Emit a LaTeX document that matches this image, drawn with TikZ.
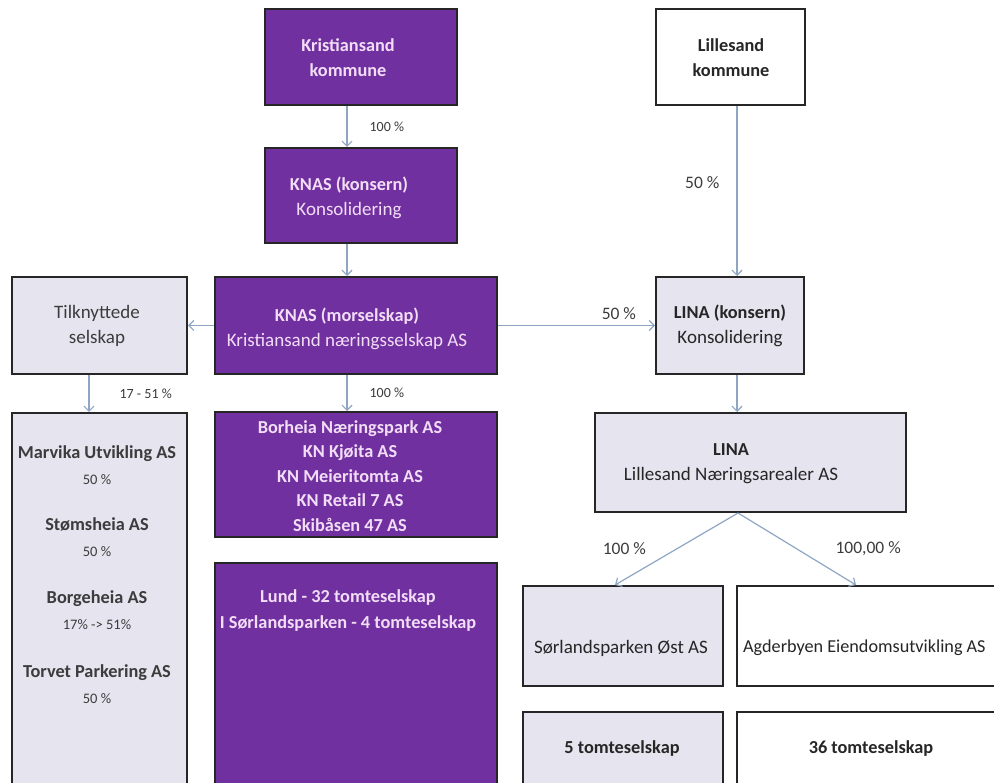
\documentclass[tikz,border=0pt]{standalone}
\usepackage{fontspec}
\setmainfont{Carlito}
\usetikzlibrary{positioning,arrows.meta}

\definecolor{knaspurple}{HTML}{7030A0}
\definecolor{linagray}{HTML}{E5E4EF}
\definecolor{linkblue}{HTML}{8EA6C4}
\definecolor{purpletext}{HTML}{F2DDF6}
\definecolor{graytext}{HTML}{3C3C3C}

\newcommand{\boxfont}{\fontsize{19}{25}\selectfont}
\newcommand{\boxbold}[1]{{\fontsize{18.3}{25}\selectfont\bfseries #1}}
\newcommand{\smallpct}[1]{{\fontsize{14.5}{16}\selectfont #1}}

\tikzset{
  box/.style={draw=black!85, line width=2pt, inner sep=0pt},
  purplebox/.style={box, fill=knaspurple},
  lightbox/.style={box, fill=linagray},
  whitebox/.style={box, fill=white},
  ontext/.style={font=\boxfont, align=center, inner sep=0pt},
  purpletxt/.style={ontext, text=purpletext},
  graytxt/.style={ontext, text=graytext},
  darktxt/.style={ontext, text=black!85},
  link/.style={draw=linkblue, line width=1.2pt, -{Straight Barb[length=5pt,width=10pt]}},
  pct/.style={font=\fontsize{14}{16}\selectfont, text=graytext, inner sep=0pt},
  bigpct/.style={font=\fontsize{17.5}{19}\selectfont, text=graytext, inner sep=0pt},
}

\begin{document}
\begin{tikzpicture}[x=1pt, y=-1pt]
  \clip (0,0) rectangle (994,783);
  \fill[white] (0,0) rectangle (994,783);

  % Kristiansand side
  \node[purplebox, minimum width=192pt, minimum height=96pt] (krs) at (361,57) {};
  \node[purpletxt] (krs-t) at (348,57.5) {\boxbold{Kristiansand}\\\boxbold{kommune}};
  \node[purplebox, minimum width=192pt, minimum height=95pt] (knasK) at (361,195.5) {};
  \node[purpletxt] (knasK-t) at (349,197.5) {\boxbold{KNAS (konsern)}\\Konsolidering};
  \node[purplebox, minimum width=282pt, minimum height=97pt] (knasM) at (356,325.5) {};
  \node[purpletxt] (knasM-t) at (347,328.5) {\boxbold{KNAS (morselskap)}\\Kristiansand næringsselskap AS};
  \node[purplebox, minimum width=282pt, minimum height=125pt] (borheia) at (356,474.5) {};
  \node[purpletxt, font=\fontsize{18.3}{24.5}\selectfont\bfseries] (borheia-t) at (350,476)
    {Borheia Næringspark AS\\KN Kjøita AS\\KN Meieritomta AS\\KN Retail 7 AS\\Skibåsen 47 AS};
  \node[purplebox, minimum width=282pt, minimum height=260pt, anchor=north] (lund) at (356,562) {};
  \node[purpletxt, font=\fontsize{18.3}{26}\selectfont\bfseries] (lund-t) at (348,611)
    {Lund - 32 tomteselskap\\I Sørlandsparken - 4 tomteselskap};

  % tilknyttede selskap
  \node[lightbox, minimum width=175pt, minimum height=97pt] (tilk) at (99.5,325.5) {};
  \node[graytxt] (tilk-t) at (97,326) {Tilknyttede\\selskap};
  \node[lightbox, minimum width=175pt, minimum height=410pt, anchor=north] (marvika) at (99.5,412) {};
  \node[graytxt, anchor=north, font=\fontsize{18.3}{26}\selectfont] (marvika-t) at (97,445)
    {\textbf{Marvika Utvikling AS}\\\smallpct{50 \%}\\[20pt]
     \textbf{Stømsheia AS}\\\smallpct{50 \%}\\[21pt]
     \textbf{Borgeheia AS}\\\smallpct{17\% -> 51\%}\\[22pt]
     \textbf{Torvet Parkering AS}\\\smallpct{50 \%}};

  % Lillesand side
  \node[whitebox, minimum width=149pt, minimum height=96pt] (lil) at (730.5,57) {};
  \node[darktxt] (lil-t) at (731,57.5) {\boxbold{Lillesand}\\\boxbold{kommune}};
  \node[lightbox, minimum width=148pt, minimum height=97pt] (linaK) at (730,325.5) {};
  \node[darktxt] (linaK-t) at (730,326) {\boxbold{LINA (konsern)}\\Konsolidering};
  \node[lightbox, minimum width=311pt, minimum height=99pt] (lina) at (750.5,462.5) {};
  \node[darktxt] (lina-t) at (731,464) {\boxbold{LINA}\\Lillesand Næringsarealer AS};
  \node[lightbox, minimum width=200pt, minimum height=100pt] (sor) at (623,636) {};
  \node[darktxt] (sor-t) at (621,648) {Sørlandsparken Øst AS};
  \node[whitebox, minimum width=280pt, minimum height=100pt, anchor=west] (agder) at (736,636) {};
  \node[darktxt, anchor=west, font=\fontsize{18.2}{25}\selectfont] (agder-t) at (743,648) {Agderbyen Eiendomsutvikling AS};
  \node[lightbox, minimum width=200pt, minimum height=120pt, anchor=north] (tomt5) at (623,711) {};
  \node[darktxt] (tomt5-t) at (622,749) {\boxbold{5 tomteselskap}};
  \node[whitebox, minimum width=280pt, minimum height=120pt, anchor=north west] (tomt36) at (736,711) {};
  \node[darktxt] (tomt36-t) at (871,749) {\boxbold{36 tomteselskap}};

  % ownership arrows
  \draw[link] ([xshift=-14pt]krs.south) -- node[pct, right=22pt] (p-krs) {100 \%} ([xshift=-14pt]knasK.north);
  \draw[link] ([xshift=-14pt]knasK.south) -- ([xshift=-9pt]knasM.north);
  \draw[link] ([xshift=6.5pt]lil.south) -- node[bigpct, pos=0.45, left=17pt] (p-lil) {50 \%} ([xshift=7pt]linaK.north);
  \draw[link] (knasM.west) -- (tilk.east);
  \draw[link] (knasM.east) -- node[bigpct, pos=0.77, above=5pt] (p-lina) {50 \%} (linaK.west);
  \draw[link] ([xshift=-10.5pt]tilk.south) -- node[pct, right=30pt] (p-tilk) {17 - 51 \%} ([xshift=-10.5pt]marvika.north);
  \draw[link] ([xshift=-9pt]knasM.south) -- node[pct, right=22pt] (p-knas) {100 \%} ([xshift=-9pt]borheia.north);
  \draw[link] ([xshift=7pt]linaK.south) -- ([xshift=-13.5pt]lina.north);
  \draw[link] ([xshift=-12.5pt]lina.south) -- node[bigpct, left=30pt] (p-sor) {100 \%} ([xshift=-8pt]sor.north);
  \draw[link] ([xshift=-12.5pt]lina.south) -- node[bigpct, right=38pt] (p-agder) {100,00 \%} ([xshift=-21pt]agder.north);
\end{tikzpicture}
\end{document}
